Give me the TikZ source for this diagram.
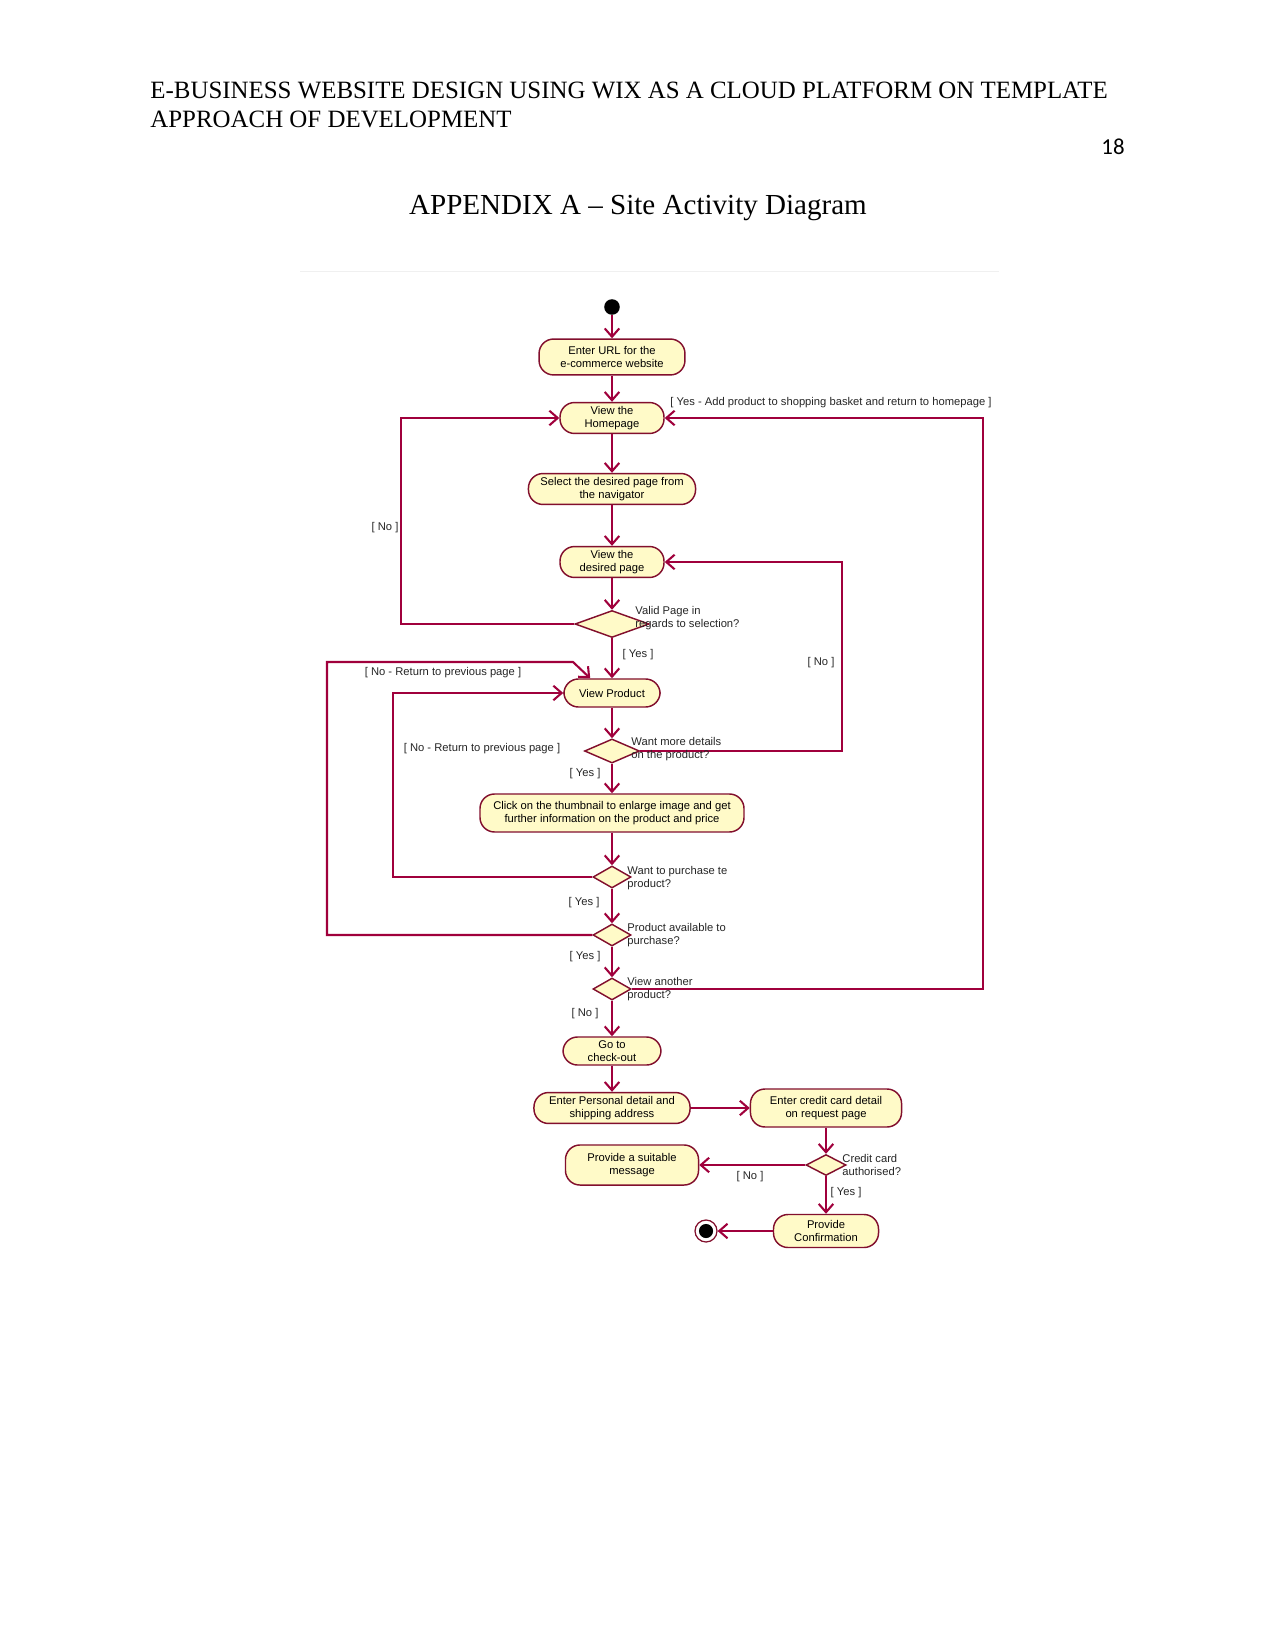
\documentclass[tikz,border=0pt]{standalone}
\usepackage{fontspec}
\setmainfont{Liberation Serif}
\newfontfamily\diagfont{Liberation Sans}
\newfontfamily\numfont{Carlito}
\usetikzlibrary{shapes.geometric,arrows.meta}
\definecolor{actborde}{RGB}{130,15,45}
\definecolor{actfondo}{RGB}{255,250,200}
\definecolor{flujo}{RGB}{160,0,60}
\tikzset{
  accion/.style={draw=actborde, fill=actfondo, line width=0.7pt, rounded corners=7pt,
    align=center, inner sep=1pt, font=\diagfont\fontsize{5.4}{6.6}\selectfont},
  decision/.style={diamond, draw=actborde, fill=actfondo, line width=0.7pt, inner sep=0pt},
  flecha/.style={draw=flujo, line width=1pt, -{Straight Barb[length=4pt,width=7pt]}},
  guarda/.style={font=\diagfont\fontsize{5.4}{6.6}\selectfont, text=black!85, inner sep=0pt},
  nota/.style={guarda, align=left, anchor=west},
}
\begin{document}
\begin{tikzpicture}[x=0.4818pt, y=-0.4818pt]
  \useasboundingbox[fill=white] (0,0) rectangle (1275,1650);
  % Encabezado
  \node[anchor=base west, inner sep=0pt, font=\fontsize{12}{14}\selectfont] (cab1) at (150,99)
    {E-BUSINESS WEBSITE DESIGN USING WIX AS A CLOUD PLATFORM ON TEMPLATE};
  \node[anchor=base west, inner sep=0pt, font=\fontsize{12}{14}\selectfont] (cab2) at (150,128)
    {APPROACH OF DEVELOPMENT};
  \node[anchor=base east, inner sep=0pt, font=\numfont\fontsize{11}{13}\selectfont] (pag) at (1125,155) {18};
  \node[anchor=base, inner sep=0pt, font=\fontsize{14}{17}\selectfont] (titulo) at (638,215)
    {APPENDIX A -- Site Activity Diagram};
  \draw[black!6] (300,271) -- (999,271);
  % Acciones
  \node[circle, fill=black, inner sep=0pt, minimum size=7.5pt] (inicio) at (612,307) {};
  \node[accion, minimum width=70.3pt, minimum height=17.3pt] (url) at (612,357) {Enter URL for the\\e-commerce website};
  \node[accion, minimum width=50.1pt, minimum height=14.9pt] (home) at (612,418) {View the\\Homepage};
  \node[accion, minimum width=80.5pt, minimum height=14.9pt] (select) at (612,489) {Select the desired page from\\the navigator};
  \node[accion, minimum width=50.1pt, minimum height=14.9pt] (desired) at (612,562) {View the\\desired page};
  \node[decision, minimum width=35.7pt, minimum height=13pt] (d1) at (612,624) {};
  \node[accion, minimum width=46.3pt, minimum height=13.5pt] (product) at (612,693) {View Product};
  \node[decision, minimum width=26.5pt, minimum height=11.6pt] (d2) at (612,751) {};
  \node[accion, minimum width=127.2pt, minimum height=18.3pt] (thumb) at (612,813)
    {Click on the thumbnail to enlarge image and get\\further information on the product and price};
  \node[decision, minimum width=18.3pt, minimum height=10.6pt] (d3) at (612,877) {};
  \node[decision, minimum width=18.3pt, minimum height=10.6pt] (d4) at (612,935) {};
  \node[decision, minimum width=18.3pt, minimum height=10.6pt] (d5) at (612,989) {};
  \node[accion, minimum width=47.2pt, minimum height=13.5pt] (checkout) at (612,1051) {Go to\\check-out};
  \node[accion, minimum width=75.2pt, minimum height=14.9pt] (personal) at (612,1108) {Enter Personal detail and\\shipping address};
  \node[accion, minimum width=72.8pt, minimum height=18.3pt] (credit) at (826,1108) {Enter credit card detail\\on request page};
  \node[decision, minimum width=19.3pt, minimum height=10.1pt] (d6) at (826,1165) {};
  \node[accion, minimum width=64.1pt, minimum height=19.3pt] (message) at (632,1165) {Provide a suitable\\message};
  \node[accion, minimum width=50.6pt, minimum height=15.9pt] (confirm) at (826,1231) {Provide\\Confirmation};
  \node[circle, draw=actborde, fill=white, line width=0.6pt, inner sep=0pt, minimum size=10.6pt] (fin) at (706,1231) {};
  \fill[black] (fin.center) circle (3.4pt);
  % Rieles de retorno
  \coordinate (rielA) at (401,528);
  \coordinate (rielB) at (983,700);
  \coordinate (rielC) at (842,663);
  \coordinate (rielD) at (393,800);
  \coordinate (rielE) at (327,800);
  \coordinate (codoE) at (573,662);
  % Flujo principal
  \draw[flecha] (inicio) -- (url);
  \draw[flecha] (url) -- (home);
  \draw[flecha] (home) -- (select);
  \draw[flecha] (select) -- (desired);
  \draw[flecha] (desired) -- (d1);
  \draw[flecha] (d1) -- (product);
  \draw[flecha] (product) -- (d2);
  \draw[flecha] (d2) -- (thumb);
  \draw[flecha] (thumb) -- (d3);
  \draw[flecha] (d3) -- (d4);
  \draw[flecha] (d4) -- (d5);
  \draw[flecha] (d5) -- (checkout);
  \draw[flecha] (checkout) -- (personal);
  \draw[flecha] (personal) -- (credit);
  \draw[flecha] (credit) -- (d6);
  \draw[flecha] (d6) -- (message);
  \draw[flecha] (d6) -- (confirm);
  \draw[flecha] (confirm) -- (fin);
  % Retornos
  \draw[flecha] (d1.west) -| (rielA) |- (home.west);
  \draw[flecha] (d5.east) -| (rielB) |- (home.east);
  \draw[flecha] (d2.east) -| (rielC) |- (desired.east);
  \draw[flecha] (d3.west) -| (rielD) |- (product.west);
  \draw[flecha] (d4.west) -| (rielE) |- (codoE) -- ([xshift=-10.5pt]product.north);
  % Preguntas
  \node[nota] (q1) at (635,618) {Valid Page in\\regards to selection?};
  \node[nota] (q2) at (631,749) {Want more details\\on the product?};
  \node[nota] (q3) at (627,878) {Want to purchase te\\product?};
  \node[nota] (q4) at (627,935) {Product available to\\purchase?};
  \node[nota] (q5) at (627,989) {View another\\product?};
  \node[nota] (q6) at (842,1165) {Credit card\\authorised?};
  % Guardas
  \node[guarda] (g1) at (638,655) {[ Yes ]};
  \node[guarda] (g2) at (585,774) {[ Yes ]};
  \node[guarda] (g3) at (584,903) {[ Yes ]};
  \node[guarda] (g4) at (585,957) {[ Yes ]};
  \node[guarda] (g5) at (585,1014) {[ No ]};
  \node[guarda] (g6) at (750,1177) {[ No ]};
  \node[guarda] (g7) at (846,1193) {[ Yes ]};
  \node[guarda] (g8) at (385,528) {[ No ]};
  \node[guarda] (g9) at (821,663) {[ No ]};
  \node[guarda] (g10) at (831,403) {[ Yes - Add product to shopping basket and return to homepage ]};
  \node[guarda] (g11) at (443,673) {[ No - Return to previous page ]};
  \node[guarda] (g12) at (482,749) {[ No - Return to previous page ]};
\end{tikzpicture}
\end{document}
